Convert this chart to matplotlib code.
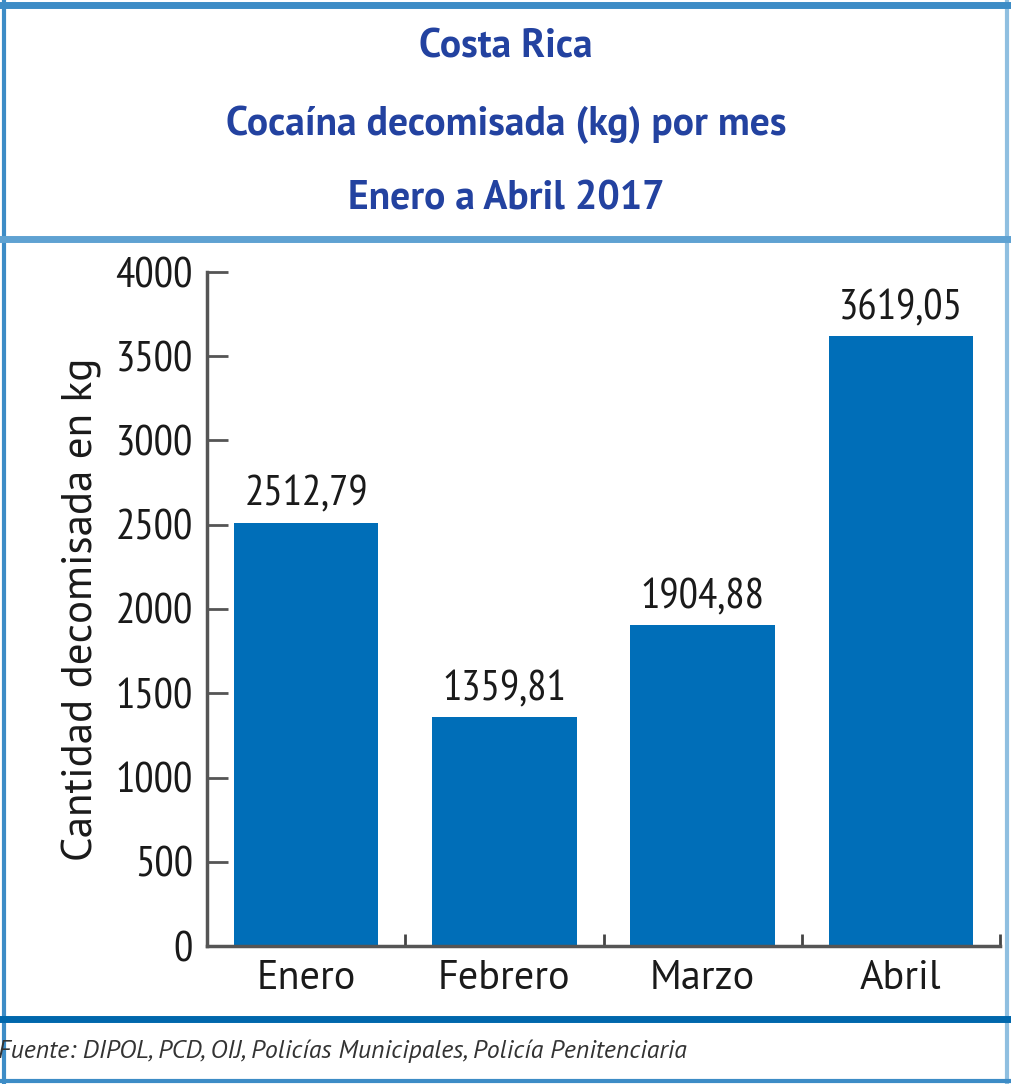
import matplotlib
matplotlib.use('Agg')
import matplotlib.pyplot as plt
from matplotlib.lines import Line2D

meses = ['Enero', 'Febrero', 'Marzo', 'Abril']
cocaina_kg = [2512.79, 1359.81, 1904.88, 3619.05]
etiquetas = ['2512,79', '1359,81', '1904,88', '3619,05']
yticks = [0, 500, 1000, 1500, 2000, 2500, 3000, 3500, 4000]

plt.rcParams['font.family'] = ['PT Sans Narrow', 'DejaVu Sans']
ancha = ['PT Sans', 'DejaVu Sans']

W, H = 1012, 1084
fig = plt.figure(figsize=(W / 100, H / 100), dpi=100)

def px(x, y):
    return x / W, 1 - y / H

# marco
borde = '#3d8cc6'
fig.add_artist(Line2D([px(4, 0)[0]] * 2, [0, 1], color=borde, lw=3))
fig.add_artist(Line2D([px(1007, 0)[0]] * 2, [0, 1], color='#8fbfe0', lw=3))
fig.add_artist(Line2D([0, 1], [px(0, 5)[1]] * 2, color=borde, lw=5))
fig.add_artist(Line2D([0, 1], [px(0, 239)[1]] * 2, color='#5fa2d2', lw=5))
fig.add_artist(Line2D([0, 1], [px(0, 1019)[1]] * 2, color='#0067ac', lw=5))
fig.add_artist(Line2D([0, 1], [px(0, 1081)[1]] * 2, color=borde, lw=3))

# titulos
azul_titulo = '#2342a0'
for texto, y in [('Costa Rica', 47), ('Cocaína decomisada (kg) por mes', 125),
                 ('Enero a Abril 2017', 199)]:
    fig.text(0.5, px(0, y)[1], texto, ha='center', va='center',
             fontsize=28.5, fontweight='bold', color=azul_titulo, family=ancha)

ax = fig.add_axes([207 / W, 1 - 946 / H, (1000 - 207) / W, (946 - 272) / H])
x = range(len(meses))
bars = ax.bar(x, cocaina_kg, width=0.73, color='#006eb8')
for b, lab in zip(bars, etiquetas):
    ax.annotate(lab, (b.get_x() + b.get_width() / 2, b.get_height()),
                xytext=(0, 12), textcoords='offset points',
                ha='center', va='baseline', fontsize=31, color='#1a1a1a')

ax.set_xlim(-0.5, 3.5)
ax.set_ylim(0, 4000)
ax.set_yticks(yticks)
ax.tick_params(axis='y', direction='in', length=15, width=2, color='#555555',
               labelsize=31, pad=10, labelcolor='#1a1a1a')
ax.set_xticks([-0.5, 0.5, 1.5, 2.5, 3.5])
ax.set_xticklabels([])
ax.tick_params(axis='x', which='major', direction='in', length=9, width=2, color='#444444')
ax.set_xticks(list(x), minor=True)
ax.set_xticklabels(meses, minor=True, family=ancha)
ax.tick_params(axis='x', which='minor', length=0, labelsize=29, pad=10, labelcolor='#1a1a1a')

for s in ['top', 'right']:
    ax.spines[s].set_visible(False)
for s in ['left', 'bottom']:
    ax.spines[s].set_color('#555555')
    ax.spines[s].set_linewidth(2.5)

ax.set_ylabel('Cantidad decomisada en kg', fontsize=31, color='#1a1a1a', family=ancha)
ax.yaxis.set_label_coords(-0.132, 0.5)

fig.text(px(-2, 0)[0], px(0, 1051)[1],
         'Fuente: DIPOL, PCD, OIJ, Policías Municipales, Policía Penitenciaria',
         ha='left', va='center', fontsize=18.5, style='italic', color='#333333',
         family=ancha)

fig.savefig('out.png', dpi=100)
